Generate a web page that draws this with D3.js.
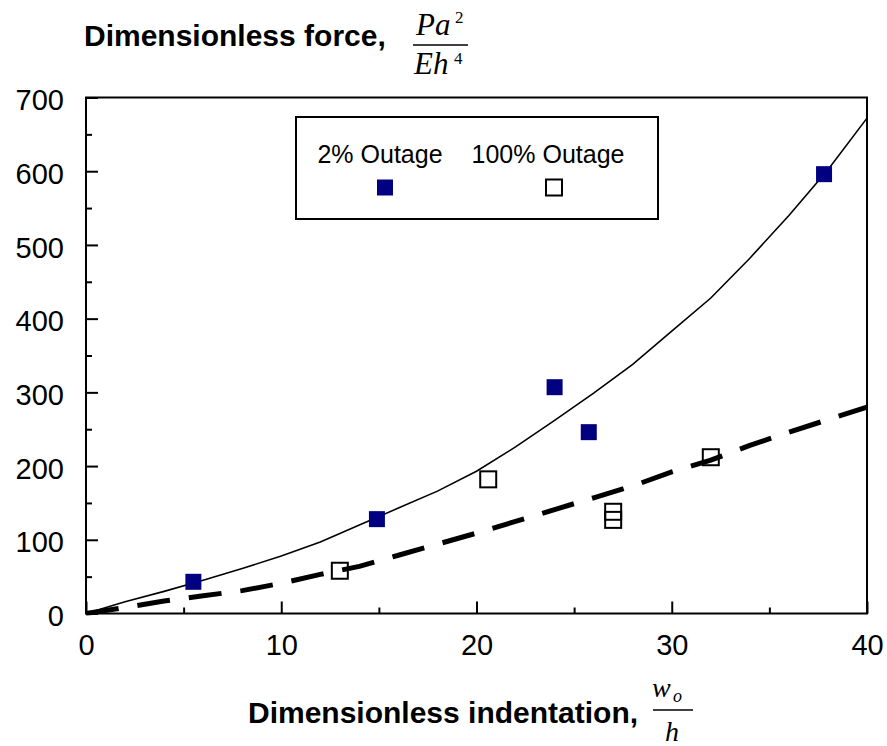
<!DOCTYPE html>
<html>
<head>
<meta charset="utf-8">
<script src="https://cdn.jsdelivr.net/npm/d3@7"></script>
<style>
  body { margin: 0; background: #fff; }
  svg { display: block; }
</style>
</head>
<body>
<div id="chart"></div>
<script>
var svgWidth = 887;
var svgHeight = 746;

var margin = {
  top: 97.5,
  right: 20,
  bottom: 132.5,
  left: 86
};

var width = svgWidth - margin.left - margin.right;
var height = svgHeight - margin.top - margin.bottom;

// data
var seriesNames = ["2% Outage", "100% Outage"];

var outage2X = [5.5, 14.9, 24.0, 25.75, 37.8];
var outage2Y = [43, 128, 307, 246, 596];

var outage100X = [13.0, 20.6, 27.0, 27.0, 32.0];
var outage100Y = [58, 182, 138, 127, 212];

var fitX = [0, 2, 4, 6, 8, 10, 12, 14, 16, 18, 20, 22, 24, 26, 28, 30, 32, 34, 36, 38, 40];
var fitSolidY = [0, 16, 30, 45, 61, 78, 97, 120, 143, 166, 193, 226, 262, 299, 338, 383, 428, 482, 540, 602, 672];
var fitDashedY = [0, 8, 17, 24, 31, 41, 53, 64, 79, 94, 109, 125, 141, 157, 173, 192, 208, 228, 246, 263, 280];

var xMajorTicks = [0, 10, 20, 30, 40];
var xMinorTicks = [5, 15, 25, 35];
var yMajorTicks = [0, 100, 200, 300, 400, 500, 600, 700];
var yMinorTicks = [50, 150, 250, 350, 450, 550, 650];

var svg = d3.select("#chart")
  .append("svg")
  .attr("width", svgWidth)
  .attr("height", svgHeight);

var chartGroup = svg.append("g")
  .attr("transform", `translate(${margin.left}, ${margin.top})`);

var xLinearScale = d3.scaleLinear().domain([0, 40]).range([0, width]);
var yLinearScale = d3.scaleLinear().domain([0, 700]).range([height, 0]);

// minor ticks (no labels)
chartGroup.append("g")
  .attr("transform", `translate(0, ${height})`)
  .call(d3.axisBottom(xLinearScale).tickValues(xMinorTicks).tickSize(-6).tickFormat(""))
  .call(g => g.select(".domain").remove());
chartGroup.append("g")
  .call(d3.axisLeft(yLinearScale).tickValues(yMinorTicks).tickSize(-6).tickFormat(""))
  .call(g => g.select(".domain").remove());

// major ticks with labels
var bottomAxis = chartGroup.append("g")
  .attr("transform", `translate(0, ${height})`)
  .call(d3.axisBottom(xLinearScale).tickValues(xMajorTicks).tickSize(-12).tickPadding(17));
var leftAxis = chartGroup.append("g")
  .call(d3.axisLeft(yLinearScale).tickValues(yMajorTicks).tickSize(-12).tickPadding(22));

[bottomAxis, leftAxis].forEach(function(ax) {
  ax.select(".domain").remove();
  ax.selectAll("text")
    .attr("font-family", "Liberation Sans, Arial, sans-serif")
    .attr("font-size", 29)
    .attr("fill", "#000");
});
leftAxis.selectAll("text").attr("dy", "0.42em");
bottomAxis.selectAll("text").attr("dy", "0.85em");
chartGroup.selectAll(".tick line").attr("stroke", "#000").attr("stroke-width", 2);

// plot frame
chartGroup.append("rect")
  .attr("x", 0).attr("y", 0)
  .attr("width", width).attr("height", height)
  .attr("fill", "none")
  .attr("stroke", "#000")
  .attr("stroke-width", 2);

svg.append("clipPath").attr("id", "plotclip")
  .append("rect").attr("x", -2).attr("y", -2).attr("width", width + 4).attr("height", height + 4);

var fitLine = d3.line()
  .x(d => xLinearScale(d[0]))
  .y(d => yLinearScale(d[1]));

chartGroup.append("path")
  .datum(fitX.map((x, i) => [x, fitDashedY[i]]))
  .attr("d", fitLine)
  .attr("fill", "none")
  .attr("stroke", "#000")
  .attr("stroke-width", 5)
  .attr("stroke-dasharray", "33,19")
  .attr("clip-path", "url(#plotclip)");

chartGroup.append("path")
  .datum(fitX.map((x, i) => [x, fitSolidY[i]]))
  .attr("d", fitLine)
  .attr("fill", "none")
  .attr("stroke", "#000")
  .attr("stroke-width", 1.6);

var markerSize = 16;

chartGroup.selectAll(".open")
  .data(outage100X.map((x, i) => [x, outage100Y[i]]))
  .enter().append("rect")
  .attr("x", d => xLinearScale(d[0]) - markerSize / 2)
  .attr("y", d => yLinearScale(d[1]) - markerSize / 2)
  .attr("width", markerSize).attr("height", markerSize)
  .attr("fill", "none")
  .attr("stroke", "#000")
  .attr("stroke-width", 2);

chartGroup.selectAll(".filled")
  .data(outage2X.map((x, i) => [x, outage2Y[i]]))
  .enter().append("rect")
  .attr("x", d => xLinearScale(d[0]) - markerSize / 2)
  .attr("y", d => yLinearScale(d[1]) - markerSize / 2)
  .attr("width", markerSize).attr("height", markerSize)
  .attr("fill", "#000080");

// legend
var legend = svg.append("g");
legend.append("rect")
  .attr("x", 296).attr("y", 117)
  .attr("width", 362).attr("height", 102)
  .attr("fill", "#fff")
  .attr("stroke", "#000")
  .attr("stroke-width", 2);

var legendCenters = [380, 548];
var legendMarkers = [385, 554];
seriesNames.forEach(function(name, i) {
  legend.append("text")
    .attr("x", legendCenters[i]).attr("y", 163)
    .attr("text-anchor", "middle")
    .attr("font-family", "Liberation Sans, Arial, sans-serif")
    .attr("font-size", 25)
    .text(name);
  legend.append("rect")
    .attr("x", legendMarkers[i] - markerSize / 2).attr("y", 187.5 - markerSize / 2)
    .attr("width", markerSize).attr("height", markerSize)
    .attr("fill", i === 0 ? "#000080" : "#fff")
    .attr("stroke", i === 0 ? "none" : "#000")
    .attr("stroke-width", 2);
});

// axis titles
var titleFont = "Liberation Sans, Arial, sans-serif";
var mathFont = "Liberation Serif, Times New Roman, serif";

svg.append("text")
  .attr("x", 84).attr("y", 46)
  .attr("font-family", titleFont).attr("font-size", 30).attr("font-weight", "bold")
  .text("Dimensionless force,");

svg.append("text").attr("x", 416).attr("y", 35)
  .attr("font-family", mathFont).attr("font-size", 31).attr("font-style", "italic")
  .text("Pa");
svg.append("text").attr("x", 455).attr("y", 23)
  .attr("font-family", mathFont).attr("font-size", 17)
  .text("2");
svg.append("line").attr("x1", 413).attr("x2", 468).attr("y1", 45).attr("y2", 45)
  .attr("stroke", "#000").attr("stroke-width", 1.5);
svg.append("text").attr("x", 414).attr("y", 74)
  .attr("font-family", mathFont).attr("font-size", 31).attr("font-style", "italic")
  .text("Eh");
svg.append("text").attr("x", 454).attr("y", 64)
  .attr("font-family", mathFont).attr("font-size", 17)
  .text("4");

svg.append("text")
  .attr("x", 248).attr("y", 723)
  .attr("font-family", titleFont).attr("font-size", 30).attr("font-weight", "bold")
  .text("Dimensionless indentation,");

svg.append("text").attr("x", 652).attr("y", 697)
  .attr("font-family", mathFont).attr("font-size", 28).attr("font-style", "italic")
  .text("w");
svg.append("text").attr("x", 673).attr("y", 702)
  .attr("font-family", mathFont).attr("font-size", 18).attr("font-style", "italic")
  .text("o");
svg.append("line").attr("x1", 653).attr("x2", 693).attr("y1", 710).attr("y2", 710)
  .attr("stroke", "#000").attr("stroke-width", 1.5);
svg.append("text").attr("x", 665).attr("y", 741)
  .attr("font-family", mathFont).attr("font-size", 28).attr("font-style", "italic")
  .text("h");
</script>
</body>
</html>
